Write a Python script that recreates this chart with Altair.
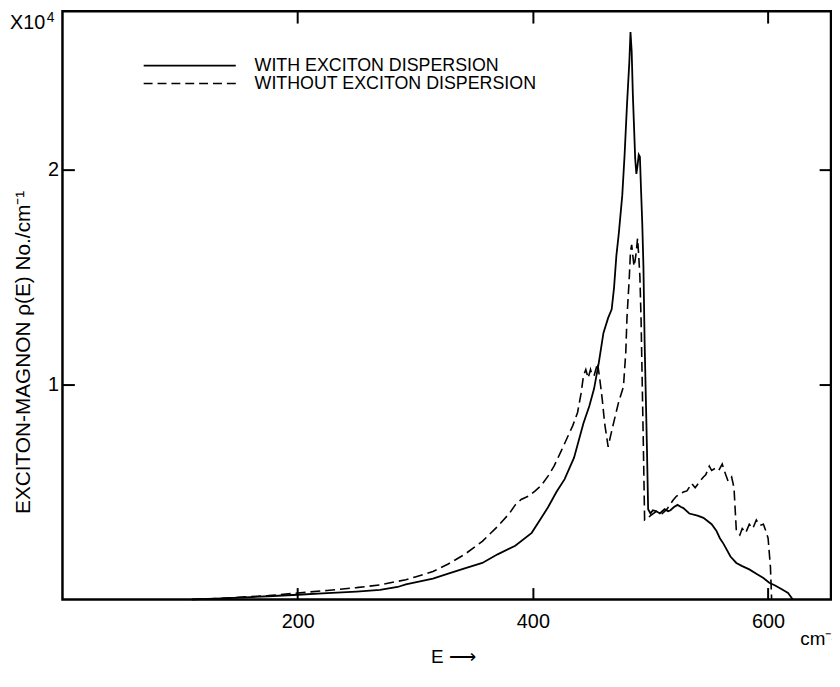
import altair as alt
import pandas as pd

# ---- data (E in cm^-1, rho in units of 1e4 per cm^-1) ----
E_WITH = [110, 130, 150, 175, 200, 225, 250, 270, 285, 292, 300, 315, 328, 342, 357, 370,
          385, 399, 406, 413, 420, 427, 435, 443, 448, 452, 456, 460, 464, 467, 469, 471,
          473, 476, 478, 480, 482, 483, 484, 485, 486, 487, 488, 489, 490, 491, 492, 493,
          494, 495, 496, 497, 498, 500, 502, 505, 508, 512, 515, 517, 520, 523, 526, 528,
          533, 540, 545, 552, 556, 559, 562, 564, 568, 573, 578, 584, 590, 596, 601, 606,
          612, 617, 621]
V_WITH = [0.0, 0.004, 0.009, 0.015, 0.022, 0.030, 0.037, 0.045, 0.058, 0.070, 0.080, 0.097,
          0.120, 0.145, 0.170, 0.210, 0.250, 0.310, 0.370, 0.430, 0.500, 0.560, 0.660, 0.820,
          0.900, 0.980, 1.100, 1.240, 1.310, 1.350, 1.450, 1.600, 1.700, 1.880, 2.070, 2.300,
          2.500, 2.640, 2.550, 2.350, 2.200, 2.050, 1.980, 2.020, 2.070, 2.060, 1.900, 1.750,
          1.550, 1.200, 0.950, 0.700, 0.420, 0.400, 0.415, 0.410, 0.400, 0.420, 0.410, 0.415,
          0.430, 0.440, 0.430, 0.425, 0.400, 0.390, 0.380, 0.350, 0.320, 0.285, 0.260, 0.240,
          0.200, 0.170, 0.155, 0.140, 0.120, 0.100, 0.078, 0.065, 0.046, 0.030, 0.0]

E_WITHOUT = [110, 130, 150, 175, 200, 225, 250, 270, 292, 300, 315, 328, 342, 357, 370, 380,
             385, 390, 396, 402, 407, 413, 418, 424, 429, 434, 438, 441, 443, 445, 446, 447,
             449, 450, 452, 455, 457, 459, 461, 464, 466, 469, 473, 477, 479, 480, 482, 483,
             484, 485, 486, 487, 488, 489, 490, 491, 492, 493, 494, 495, 497, 500, 505, 510,
             514, 519, 522, 525, 528, 531, 535, 538, 542, 545, 547, 550, 552, 555, 558, 561,
             564, 566, 569, 571, 573, 576, 578, 581, 584, 587, 590, 593, 596, 598, 600, 602,
             603]
V_WITHOUT = [0.0, 0.004, 0.010, 0.018, 0.030, 0.042, 0.055, 0.068, 0.092, 0.105, 0.130, 0.165,
             0.210, 0.270, 0.340, 0.400, 0.440, 0.465, 0.480, 0.505, 0.530, 0.575, 0.620, 0.690,
             0.750, 0.810, 0.870, 0.960, 1.040, 1.070, 1.050, 1.030, 1.070, 1.050, 1.040, 1.100,
             1.020, 0.930, 0.820, 0.710, 0.760, 0.830, 0.920, 0.990, 1.150, 1.310, 1.500, 1.620,
             1.650, 1.600, 1.550, 1.580, 1.620, 1.680, 1.600, 1.500, 1.300, 1.000, 0.700, 0.370,
             0.375, 0.390, 0.410, 0.400, 0.420, 0.460, 0.480, 0.490, 0.500, 0.505, 0.540, 0.520,
             0.550, 0.570, 0.580, 0.620, 0.600, 0.610, 0.600, 0.630, 0.580, 0.550, 0.570, 0.520,
             0.320, 0.300, 0.330, 0.310, 0.350, 0.330, 0.370, 0.345, 0.350, 0.320, 0.285, 0.150,
             0.0]

X_TICKS = [200, 400, 600]
Y_TICKS = [1, 2]
LEGEND_LABELS = ["WITH EXCITON DISPERSION", "WITHOUT EXCITON DISPERSION"]
Y_TITLE = "EXCITON-MAGNON \u03c1(E)  No./cm\u207b\u00b9"
X_UNIT = "cm\u207b\u00b9"
X_NOTE = "E \u27f6"
SCALE_NOTE = "X10"
SCALE_EXP = "4"

FONT = "Liberation Sans"
W, H = 776, 594

df_with = pd.DataFrame({"E": E_WITH, "V": V_WITH})
df_without = pd.DataFrame({"E": E_WITHOUT, "V": V_WITHOUT})
dummy = pd.DataFrame({"a": [0]})

xs = alt.Scale(domain=[0, 653.5], nice=False, zero=False)
ys = alt.Scale(domain=[0, 2.737], nice=False, zero=False)

axis_common = dict(domain=False, grid=False, tickSize=12, tickWidth=2, tickColor="black",
                   offset=-12, labelFont=FONT, labelFontSize=20, labelColor="black")

solid = alt.Chart(df_with).mark_line(color="black", strokeWidth=1.8).encode(
    x=alt.X("E:Q", scale=xs, axis=alt.Axis(orient="bottom", values=X_TICKS, title=None,
                                           labelPadding=12, format="d", **axis_common)),
    y=alt.Y("V:Q", scale=ys, axis=alt.Axis(orient="left", values=Y_TICKS, format="d",
                                           labelPadding=4, title=Y_TITLE, titleFont=FONT,
                                           titleFontSize=21, titleFontWeight="normal",
                                           titleColor="black", titlePadding=14, titleY=344,
                                           **axis_common)),
)

dashed = alt.Chart(df_without).mark_line(color="black", strokeWidth=1.6, strokeDash=[10, 5]).encode(
    x=alt.X("E:Q", scale=xs, axis=alt.Axis(orient="top", values=X_TICKS, labels=False,
                                           title=None, **axis_common)),
    y=alt.Y("V:Q", scale=ys, axis=alt.Axis(orient="right", values=Y_TICKS, labels=False,
                                           title=None, **axis_common)),
)

leg_solid = alt.Chart(dummy).mark_rule(color="black", strokeWidth=1.6).encode(
    x=alt.value(82), x2=alt.value(175), y=alt.value(55))
leg_dash = alt.Chart(dummy).mark_rule(color="black", strokeWidth=1.5, strokeDash=[9, 5]).encode(
    x=alt.value(82), x2=alt.value(175), y=alt.value(73))

def label(txt, x, y, size=20, align="left", baseline="middle"):
    return alt.Chart(pd.DataFrame({"t": [txt]})).mark_text(
        font=FONT, fontSize=size, color="black", align=align, baseline=baseline
    ).encode(text="t:N", x=alt.value(x), y=alt.value(y))

texts = [
    label(LEGEND_LABELS[0], 194, 55, size=18),
    label(LEGEND_LABELS[1], 194, 74, size=18),
    label(SCALE_NOTE, -53, 18, size=20, baseline="alphabetic"),
    label(SCALE_EXP, -16, 11, size=14, baseline="alphabetic"),
    label(X_UNIT, 745, 634, size=19),
    label(X_NOTE, 372, 652, size=19),
]

chart = alt.layer(solid, dashed, leg_solid, leg_dash, *texts).resolve_axis(
    x="independent", y="independent"
).properties(
    width=W, height=H,
    autosize=alt.AutoSizeParams(type="none"),
    padding={"left": 55, "top": 0, "right": 1, "bottom": 68},
).configure(background="white").configure_view(stroke="black", strokeWidth=2.5)

chart.save("out.html", embed_options={"renderer": "svg", "actions": False})
